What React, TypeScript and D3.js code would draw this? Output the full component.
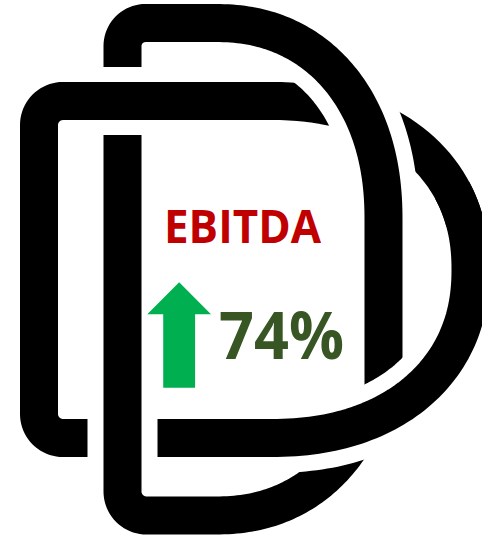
import React, { useEffect, useRef } from "react";
import * as d3 from "d3";

// KPI shown inside the logo
const labels = ["EBITDA"];
const values = [74];
const directions = ["up"];

const W = 482;
const H = 536;
const STROKE = 38;
const GAP = 16;
const N = 2.2; // superellipse exponent for the D curves

type Pt = [number, number];

function superPts(cx: number, cy: number, rx: number, ry: number, t0: number, t1: number, steps = 80): Pt[] {
  const e = 2 / N;
  return d3.range(steps + 1).map((i) => {
    const t = t0 + ((t1 - t0) * i) / steps;
    const c = Math.cos(t);
    const s = Math.sin(t);
    return [
      cx + rx * Math.sign(c) * Math.pow(Math.abs(c), e),
      cy + ry * Math.sign(s) * Math.pow(Math.abs(s), e),
    ] as Pt;
  });
}

function cornerPts(cx: number, cy: number, r: number, t0: number, t1: number, steps = 20): Pt[] {
  return d3.range(steps + 1).map((i) => {
    const t = t0 + ((t1 - t0) * i) / steps;
    return [cx + r * Math.cos(t), cy + r * Math.sin(t)] as Pt;
  });
}

const PI = Math.PI;

// middle D (full ring)
const ringB: Pt[] = [
  ...cornerPts(63, 125, 24, PI, 1.5 * PI),
  ...superPts(270, 269.5, 200.5, 168.5, -PI / 2, PI / 2),
  ...cornerPts(63, 414, 24, PI / 2, PI),
];
// lower right part of middle D, redrawn over the others
const segBHalo: Pt[] = [[200, 438], ...superPts(270, 269.5, 200.5, 168.5, PI / 2, -0.25)];
const segB: Pt[] = [[185, 438], ...superPts(270, 269.5, 200.5, 168.5, PI / 2, -0.45)];
// top D
const pathA: Pt[] = [
  [122.5, 67],
  ...cornerPts(145.5, 46, 23, PI, 1.5 * PI),
  ...superPts(215, 220, 168.5, 197, -PI / 2, 0),
  [383.5, 405],
];
// bottom D
const pathC: Pt[] = [
  [122.5, 135],
  ...cornerPts(146.5, 491.5, 24, PI, PI / 2),
  ...superPts(215, 318.5, 168.5, 197, PI / 2, 0),
  [383.5, 300],
];

export default function App() {
  const svgRef = useRef(null);

  useEffect(() => {
    const svg = d3.select(svgRef.current).attr("width", W).attr("height", H);
    const line = d3.line();

    const logo = svg.append("g").attr("fill", "none").attr("stroke-linecap", "butt");

    const drawPiece = (pts: Pt[], closed: boolean, haloPts: Pt[] | null) => {
      const d = line(pts) + (closed ? "Z" : "");
      if (haloPts) {
        logo
          .append("path")
          .attr("d", line(haloPts))
          .attr("stroke", "#fff")
          .attr("stroke-width", STROKE + GAP * 2);
      }
      logo.append("path").attr("d", d).attr("stroke", "#000").attr("stroke-width", STROKE);
    };

    drawPiece(ringB, true, null);
    drawPiece(pathC, false, pathC);
    drawPiece(pathA, false, pathA);
    drawPiece(segB, false, segBHalo);

    // label
    svg
      .append("text")
      .attr("x", 164)
      .attr("y", 243)
      .attr("textLength", 157)
      .attr("lengthAdjust", "spacingAndGlyphs")
      .style("font-family", "'Open Sans', sans-serif")
      .style("font-weight", 700)
      .style("font-size", "46px")
      .style("fill", "#C00000")
      .text(labels[0]);

    // arrow
    const up = directions[0] === "up";
    const ax = d3.scaleLinear().domain([0, 1]).range([147.3, 211]);
    const ay = d3.scaleLinear().domain([0, 1]).range(up ? [282.3, 387.7] : [387.7, 282.3]);
    const headT = 0.303;
    const arrow: Pt[] = [
      [ax(0.5), ay(0)],
      [ax(1), ay(headT)],
      [ax(0.75), ay(headT)],
      [ax(0.75), ay(1)],
      [ax(0.25), ay(1)],
      [ax(0.25), ay(headT)],
      [ax(0), ay(headT)],
    ];
    svg.append("path").attr("d", line(arrow) + "Z").attr("fill", "#00B050");

    // value
    svg
      .append("text")
      .attr("x", 219)
      .attr("y", 359)
      .attr("textLength", 125)
      .attr("lengthAdjust", "spacingAndGlyphs")
      .style("font-family", "'Open Sans', sans-serif")
      .style("font-weight", 700)
      .style("font-size", "67px")
      .style("fill", "#375623")
      .text(d3.format("d")(values[0]) + "%");

    return () => {
      svg.selectAll("*").remove();
    };
  }, []);

  return (
    <div style={{ position: "absolute", left: 0, top: 0, background: "#fff" }}>
      <svg ref={svgRef} style={{ display: "block" }} />
    </div>
  );
}
